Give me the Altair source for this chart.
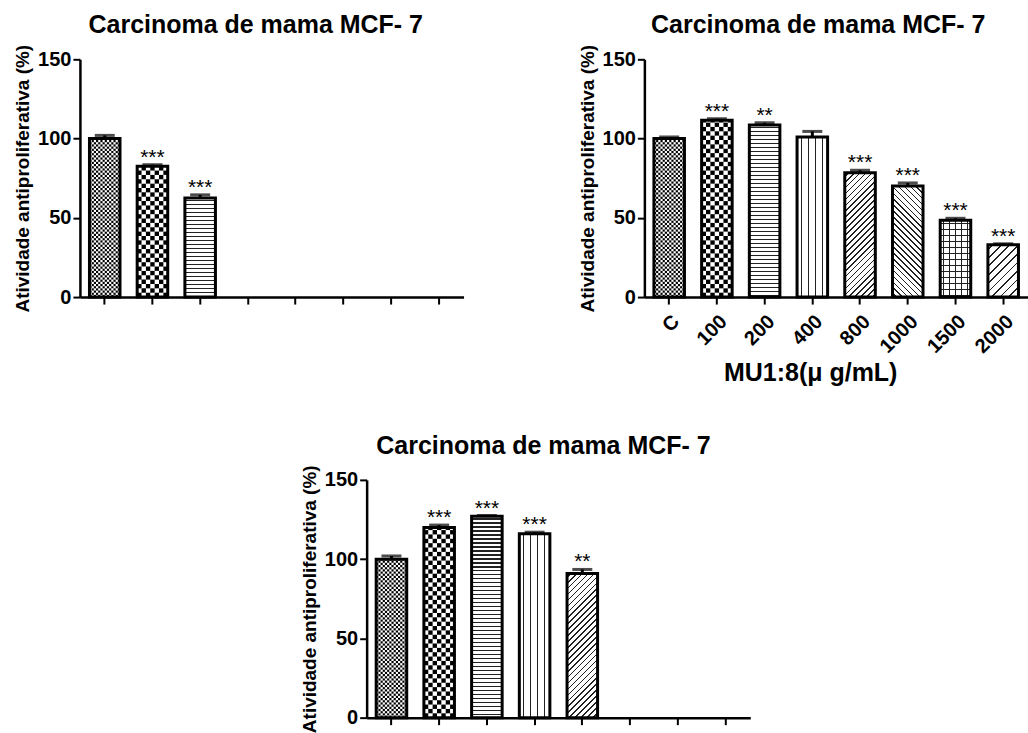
import altair as alt
import pandas as pd
import numpy as np

# ---------------- data ----------------
SLOTS = ["C", "100", "200", "400", "800", "1000", "1500", "2000"]
PATTERNS = ["dots", "checker", "hlines", "vlines", "diag_up", "diag_down", "grid", "diag_up_wide"]

TITLE = "Carcinoma de mama MCF- 7"
YTITLE = "Atividade antiproliferativa (%)"
XTITLE = "MU1:8(\u03bc g/mL)"

# top-left panel (only the first three bars are readable)
tl_vals = [100, 82.5, 62.5]
tl_err = [2, 1, 2]
tl_sig = ["", "***", "***"]

# top-right panel
tr_vals = [100, 111.5, 108.5, 101, 78.5, 70, 48.5, 33]
tr_err = [1, 1, 1.5, 3.5, 1.5, 2, 1.2, 0.6]
tr_sig = ["", "***", "**", "", "***", "***", "***", "***"]

# bottom panel (first five bars readable)
bt_vals = [100, 120, 127, 116, 91]
bt_err = [2, 1.5, 0.5, 1, 2.5]
bt_sig = ["", "***", "***", "***", "**"]

# ---------------- geometry ----------------
W = 384
H = 238
PI = 0.36
PO = 0.2
STEP = W / (len(SLOTS) - PI + 2 * PO)
BW = STEP * (1 - PI)
PXU = H / 150.0
FONT = "Liberation Sans"


def stripe_stops(length, period, line, fg, bg):
    stops = [{"offset": 0, "color": bg}]
    pos = period / 2.0
    while pos + line < length:
        a = round(pos / length, 5)
        b = round((pos + line) / length, 5)
        stops += [{"offset": a, "color": bg}, {"offset": a, "color": fg},
                  {"offset": b, "color": fg}, {"offset": b, "color": bg}]
        pos += period
    stops.append({"offset": 1, "color": bg})
    return stops


def grad(x1, y1, x2, y2, stops):
    return {"gradient": "linear", "x1": x1, "y1": y1, "x2": x2, "y2": y2, "stops": stops}


def make_panel(vals, errs, sigs, title_dx, xlabels):
    xscale = alt.Scale(domain=SLOTS, paddingInner=PI, paddingOuter=PO)
    if xlabels:
        xaxis = alt.Axis(title=XTITLE, labelAngle=-45, labelFontSize=20, labelPadding=7,
                         titleFontSize=25, titleX=166, titleY=84, titleAlign="center",
                         titleBaseline="alphabetic")
    else:
        xaxis = alt.Axis(title=None, labels=False)
    yscale = alt.Scale(domain=[0, 150], nice=False)
    yaxis = alt.Axis(title=YTITLE, values=[0, 50, 100, 150])

    X = alt.X("cat:N", scale=xscale, axis=xaxis)
    layers = []
    n = len(vals)
    for i in range(n):
        cat = SLOTS[i]
        v = vals[i]
        pat = PATTERNS[i]
        h = v * PXU
        df = pd.DataFrame({"cat": [cat], "v": [v]})
        base = alt.Chart(df)
        enc = dict(x=X, y=alt.Y("v:Q", scale=yscale, axis=yaxis), y2=alt.datum(0))
        fill = "white"
        overlay = None
        if pat == "hlines":
            fill = grad(0, 0, 0, 1, stripe_stops(h, 4, 1.2, "#222", "white"))
        elif pat == "vlines":
            fill = grad(0, 0, 1, 0, stripe_stops(BW, 7, 1.2, "#222", "white"))
        elif pat in ("diag_up", "diag_up_wide"):
            k = (BW + h) / (BW ** 2 + h ** 2)
            L = (BW + h) / np.sqrt(2)
            per = 4.2 if pat == "diag_up" else 6
            fill = grad(0, 0, k * BW, k * h, stripe_stops(L, per, 1.2, "#222", "white"))
        elif pat == "diag_down":
            k = (BW + h) / (BW ** 2 + h ** 2)
            L = (BW + h) / np.sqrt(2)
            fill = grad(0, 1, k * BW, 1 - k * h, stripe_stops(L, 4.2, 1.2, "#222", "white"))
        elif pat == "grid":
            fill = grad(0, 0, 1, 0, stripe_stops(BW, 6, 1.2, "#222", "white"))
            overlay = grad(0, 0, 0, 1, stripe_stops(h, 6, 1.2, "#222", "rgba(255,255,255,0)"))
        layers.append(base.mark_bar(fill=fill, strokeWidth=0).encode(**enc))
        if overlay is not None:
            layers.append(base.mark_bar(fill=overlay, strokeWidth=0).encode(**enc))
        if pat in ("dots", "checker"):
            cell = 2.2 if pat == "dots" else 4.4
            ncols = int(round(BW / cell))
            cu = (BW / ncols) / PXU
            rows = int(np.ceil(v / cu))
            recs = []
            for r in range(rows):
                for c in range(ncols):
                    if (r + c) % 2 == 0:
                        recs.append({"cat": cat, "col": c, "y0": r * cu, "y1": min((r + 1) * cu, v)})
            gdf = pd.DataFrame(recs)
            layers.append(
                alt.Chart(gdf).mark_rect(color="black", strokeWidth=0).encode(
                    x=X,
                    xOffset=alt.XOffset("col:O", scale=alt.Scale(paddingInner=0, paddingOuter=0)),
                    y=alt.Y("y0:Q", scale=yscale, axis=yaxis),
                    y2="y1:Q",
                )
            )
        layers.append(
            base.mark_bar(fillOpacity=0, stroke="black", strokeWidth=3).encode(**enc)
        )

    edf = pd.DataFrame({
        "cat": SLOTS[:n],
        "v": vals,
        "top": [a + b for a, b in zip(vals, errs)],
        "sig": sigs,
    })
    eb = alt.Chart(edf)
    layers.append(eb.mark_rule(color="black", strokeWidth=3).encode(
        x=X, y=alt.Y("v:Q", scale=yscale, axis=yaxis), y2="top:Q"))
    layers.append(eb.mark_tick(color="black", thickness=3, size=20).encode(
        x=X, y=alt.Y("top:Q", scale=yscale, axis=yaxis)))
    layers.append(eb.mark_text(font=FONT, fontSize=21, baseline="alphabetic", dy=-1,
                               color="black").encode(
        x=X, y=alt.Y("top:Q", scale=yscale, axis=yaxis), text="sig:N"))

    return alt.layer(*layers).resolve_scale(xOffset="independent").properties(
        width=W, height=H,
        title=alt.TitleParams(TITLE, dx=title_dx, fontSize=25, font=FONT,
                              fontWeight="bold", offset=6, anchor="middle", color="black"),
    )


left = make_panel(tl_vals, tl_err, tl_sig, -16, False)
right = make_panel(tr_vals, tr_err, tr_sig, -18, True)
bottom = make_panel(bt_vals, bt_err, bt_sig, -15, False)

spacer = alt.Chart(pd.DataFrame({"a": [0]})).mark_point(opacity=0).encode(
    x=alt.value(0), y=alt.value(0)).properties(width=220, height=H)

top_row = alt.hconcat(left, right, spacing=114)
bottom_row = alt.hconcat(spacer, bottom, spacing=0)

chart = alt.vconcat(top_row, bottom_row, spacing=47).properties(
    padding={"left": 13, "top": 12, "right": 0, "bottom": 2},
    background="white",
).configure_view(stroke=None).configure_axis(
    domainColor="black", domainWidth=2.5, tickColor="black", tickWidth=2, tickSize=7,
    labelFont=FONT, labelFontWeight="bold", labelFontSize=20, labelColor="black", labelPadding=2,
    titleFont=FONT, titleFontWeight="bold", titleFontSize=19, titleColor="black", titlePadding=5,
    grid=False,
)

chart.save("out.html", embed_options={"renderer": "svg", "actions": False})
